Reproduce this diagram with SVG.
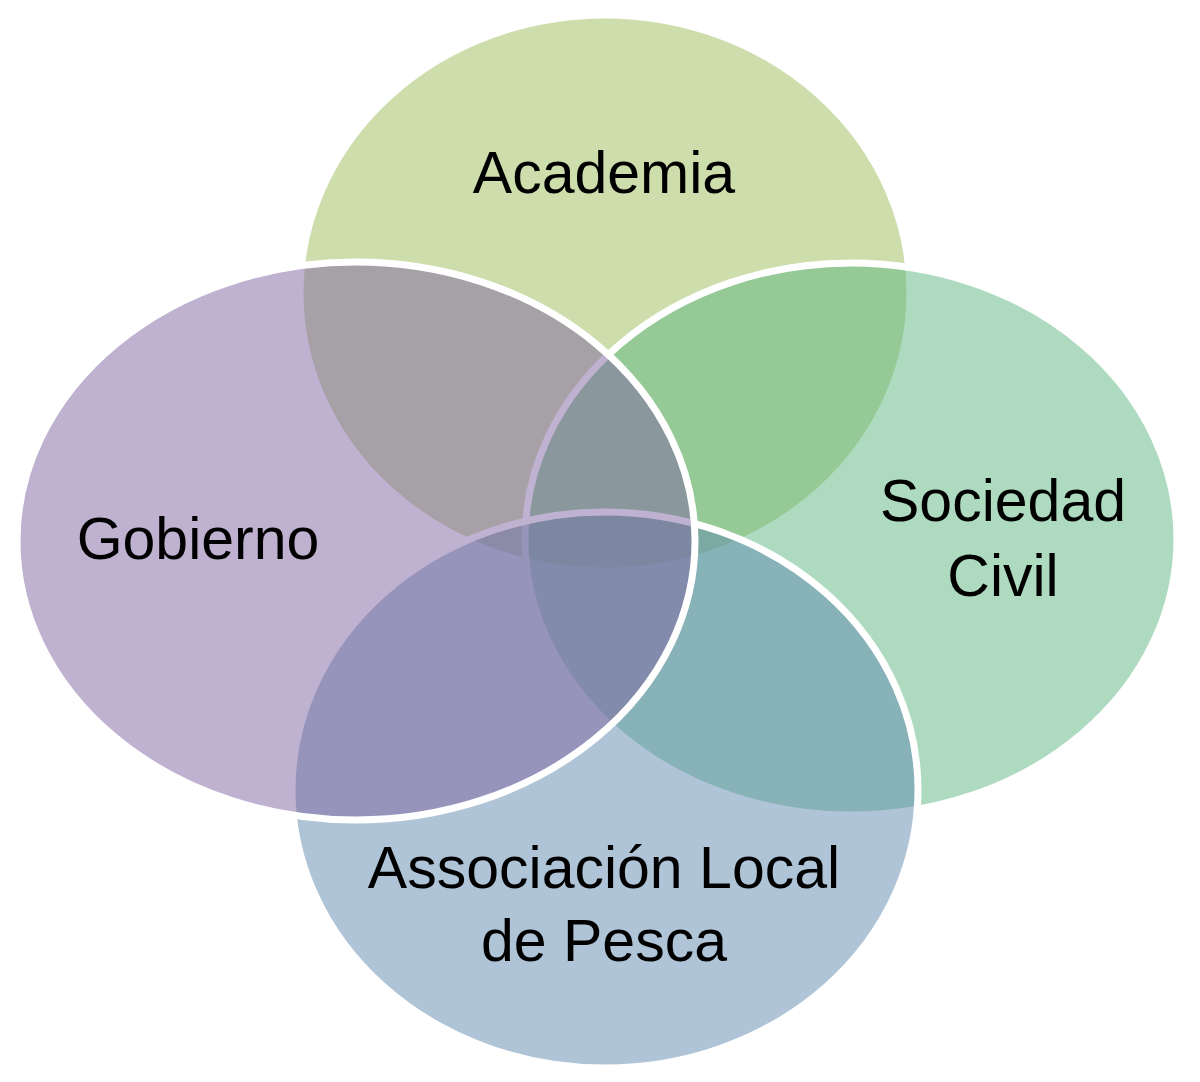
<svg xmlns="http://www.w3.org/2000/svg" width="1200" height="1082" viewBox="0 0 1200 1082">
  <style>
    .set { stroke: #ffffff; stroke-width: 7; fill-opacity: 0.5; }
    .lbl { font-family: "Liberation Sans", Arial, sans-serif; font-size: 59px; fill: #000000; text-anchor: middle; }
  </style>
  <rect x="0" y="0" width="1200" height="1082" fill="#ffffff"/>
  <g id="academia">
    <ellipse class="set" cx="605" cy="293" rx="305" ry="278" fill="#9BBB59"/>
  </g>
  <g id="sociedad-civil">
    <ellipse class="set" cx="851" cy="539" rx="326" ry="276" fill="#5DB781"/>
  </g>
  <g id="asociacion-pesca">
    <ellipse class="set" cx="605" cy="790" rx="313" ry="278" fill="#5F89AD"/>
  </g>
  <g id="gobierno">
    <ellipse class="set" cx="356" cy="541" rx="339" ry="279" fill="#8064A2"/>
  </g>
  <g id="labels">
    <text class="lbl" x="604" y="193">Academia</text>
    <text class="lbl" x="198" y="559">Gobierno</text>
    <text class="lbl" x="1003" y="521">Sociedad</text>
    <text class="lbl" x="1003" y="596">Civil</text>
    <text class="lbl" x="604" y="888">Associación Local</text>
    <text class="lbl" x="604" y="961">de Pesca</text>
  </g>
  <g id="connectors"/>
</svg>
